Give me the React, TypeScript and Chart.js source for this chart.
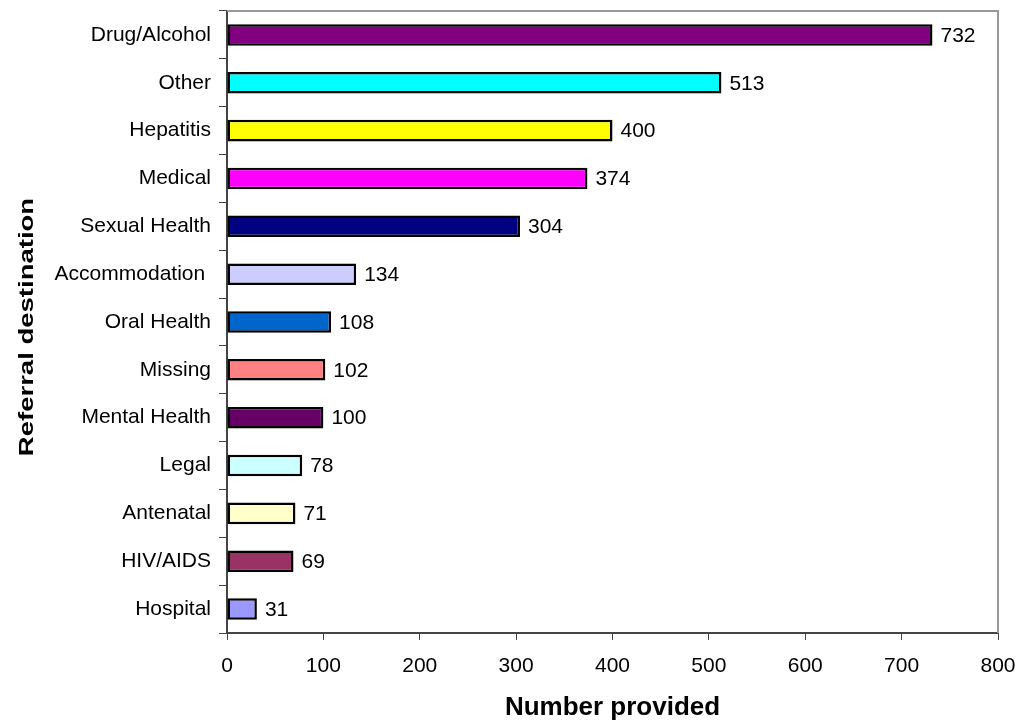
import React, { useEffect, useRef } from "react";
import { Chart, registerables } from "chart.js";

Chart.register(...registerables);

const categories = [
  "Drug/Alcohol",
  "Other",
  "Hepatitis",
  "Medical",
  "Sexual Health",
  "Accommodation ",
  "Oral Health",
  "Missing",
  "Mental Health",
  "Legal",
  "Antenatal",
  "HIV/AIDS",
  "Hospital",
];
const values = [732, 513, 400, 374, 304, 134, 108, 102, 100, 78, 71, 69, 31];
const barColors = [
  "#800080",
  "#00FFFF",
  "#FFFF00",
  "#FF00FF",
  "#000080",
  "#CCCCFF",
  "#0066CC",
  "#FF8080",
  "#660066",
  "#CCFFFF",
  "#FFFFCC",
  "#993366",
  "#9999FF",
];
const xTicks = [0, 100, 200, 300, 400, 500, 600, 700, 800];
const xTitle = "Number provided";
const yTitle = "Referral destination";

const FONT = "'Liberation Sans', Arial, sans-serif";

const labelPlugin = {
  id: "barLabels",
  afterDatasetsDraw(chart: any) {
    const ctx = chart.ctx;
    const meta = chart.getDatasetMeta(0);
    ctx.save();
    ctx.font = `21px ${FONT}`;
    ctx.fillStyle = "#000";
    ctx.textAlign = "left";
    ctx.textBaseline = "middle";
    meta.data.forEach((bar: any, i: number) => {
      ctx.fillText(String(values[i]), bar.x + 8, bar.y + 1);
    });
    ctx.restore();
  },
};

const framePlugin = {
  id: "frame",
  beforeDatasetsDraw(chart: any) {
    const { ctx, chartArea } = chart;
    ctx.save();
    ctx.strokeStyle = "#999999";
    ctx.lineWidth = 2;
    ctx.beginPath();
    ctx.moveTo(chartArea.left, chartArea.top);
    ctx.lineTo(chartArea.right, chartArea.top);
    ctx.lineTo(chartArea.right, chartArea.bottom);
    ctx.stroke();
    ctx.restore();
  },
};

const titlesPlugin = {
  id: "titles",
  afterDraw(chart: any) {
    const { ctx, chartArea } = chart;
    ctx.save();
    ctx.fillStyle = "#000";
    ctx.font = `bold 26px ${FONT}`;
    ctx.textAlign = "center";
    ctx.textBaseline = "alphabetic";
    ctx.fillText(xTitle, (chartArea.left + chartArea.right) / 2, 715);
    ctx.restore();

    ctx.save();
    ctx.fillStyle = "#000";
    ctx.font = `bold 21px ${FONT}`;
    ctx.textAlign = "center";
    ctx.textBaseline = "alphabetic";
    ctx.translate(33, (chartArea.top + chartArea.bottom) / 2 + 5);
    ctx.rotate(-Math.PI / 2);
    ctx.scale(1.31, 1);
    ctx.fillText(yTitle, 0, 0);
    ctx.restore();
  },
};

export default function App() {
  const ref = useRef<HTMLCanvasElement | null>(null);
  useEffect(() => {
    document.body.style.margin = "0";
    const chart = new Chart(ref.current as HTMLCanvasElement, {
      type: "bar",
      data: {
        labels: categories,
        datasets: [
          {
            data: values,
            backgroundColor: barColors,
            borderColor: "#000000",
            borderWidth: 2.5,
            borderSkipped: false,
            barPercentage: 0.45,
            categoryPercentage: 1,
          },
        ],
      },
      options: {
        indexAxis: "y",
        animation: false,
        responsive: false,
        maintainAspectRatio: false,
        layout: { padding: { top: 11, right: 23, left: 0, bottom: 0 } },
        plugins: {
          legend: { display: false },
          tooltip: { enabled: false },
        },
        scales: {
          x: {
            min: 0,
            max: 800,
            afterBuildTicks: (scale: any) => {
              scale.ticks = xTicks.map((v) => ({ value: v }));
            },
            afterFit: (scale: any) => {
              scale.height = 87;
              scale.paddingLeft = 0;
              scale.paddingRight = 0;
            },
            ticks: {
              color: "#000",
              font: { family: FONT, size: 21 },
              padding: 14,
              maxRotation: 0,
            },
            grid: {
              drawOnChartArea: false,
              drawTicks: true,
              tickLength: 7,
              color: "#444444",
              lineWidth: 1,
            },
            border: { display: true, color: "#444444", width: 2 },
            title: { display: false },
          },
          y: {
            offset: true,
            afterFit: (scale: any) => {
              scale.width = 227;
              scale.paddingTop = 0;
              scale.paddingBottom = 0;
            },
            ticks: {
              color: "#000",
              font: { family: FONT, size: 21 },
              padding: 8,
            },
            grid: {
              offset: true,
              drawOnChartArea: false,
              drawTicks: true,
              tickLength: 8,
              color: "#444444",
              lineWidth: 1,
            },
            border: { display: true, color: "#444444", width: 2 },
            title: { display: false },
          },
        },
      },
      plugins: [framePlugin, labelPlugin, titlesPlugin],
    });
    return () => chart.destroy();
  }, []);
  return (
    <div style={{ width: 1021, height: 720 }}>
      <canvas ref={ref} width={1021} height={720} style={{ display: "block" }} />
    </div>
  );
}
